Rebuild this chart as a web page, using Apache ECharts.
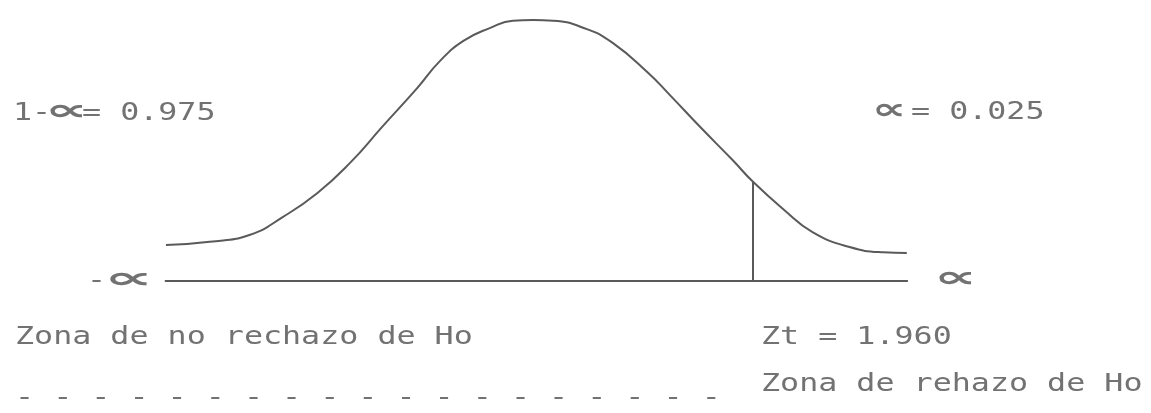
<!DOCTYPE html>
<html>
<head>
<meta charset="utf-8">
<title>Zona de rechazo</title>
<script src="https://cdn.jsdelivr.net/npm/echarts@6/dist/echarts.min.js"></script>
<style>
  html, body { margin: 0; padding: 0; background: #fff; }
  #main { width: 1151px; height: 413px; }
</style>
</head>
<body>
<div id="main"></div>
<script>
// curva normal (z, altura)
var curveZ = [-3.27, -2.88, -2.52, -2.23, -1.92, -1.63, -1.34, -1.03, -0.83, -0.62, -0.38, -0.18, 0,
              0.18, 0.48, 0.71, 1.02, 1.22, 1.49, 1.78, 1.96, 2.23, 2.49, 2.82, 3.12, 3.33];
var curveY = [0.055, 0.060, 0.071, 0.098, 0.135, 0.181, 0.237, 0.296, 0.337, 0.368, 0.388, 0.399, 0.400,
              0.399, 0.386, 0.365, 0.320, 0.285, 0.236, 0.185, 0.152, 0.110, 0.075, 0.052, 0.044, 0.043];

// eje horizontal (-inf .. inf)
var baseZ = [-3.28, 3.34];
var baseY = [0, 0];

// valor critico
var zCrit = 1.96;
var critHeight = 0.152;

// textos
var alphaSign = '∝';
var alphaText = '= 0.025';
var confPrefix = '1-';
var confText = '= 0.975';
var noRejectText = 'Zona de no rechazo de Ho';
var ztText = 'Zt = 1.960';
var rejectText = 'Zona de rehazo de Ho';
var dashCount = 19;

var lineColor = '#5a5a5a';
var textColor = '#727272';

function pairs(xs, ys) {
    var out = [];
    for (var i = 0; i < xs.length; i++) out.push([xs[i], ys[i]]);
    return out;
}

// texto tipo impresora: monoespaciado y estirado a lo ancho
function label(str, x, y) {
    return {
        type: 'text',
        x: x,
        y: y,
        scaleX: 1.32,
        style: {
            text: str,
            fontFamily: 'DejaVu Sans Mono',
            fontSize: 24,
            fill: textColor,
            verticalAlign: 'middle'
        }
    };
}

// el signo alfa de la impresora es ancho y bajo
function alpha(x, y, sx) {
    return {
        type: 'text',
        x: x,
        y: y,
        scaleX: sx,
        style: {
            text: alphaSign,
            fontFamily: 'DejaVu Sans',
            fontSize: 30,
            fontWeight: 'bold',
            fill: textColor,
            verticalAlign: 'middle'
        }
    };
}

var dashes = [];
for (var i = 0; i < dashCount; i++) dashes.push('-');

var chart = echarts.init(document.getElementById('main'));

var option = {
    animation: false,
    backgroundColor: '#fff',
    grid: { left: 84, right: 169, top: 7, bottom: 132 },
    xAxis: { type: 'value', min: -4, max: 4, show: false },
    yAxis: { type: 'value', min: 0, max: 0.42, show: false },
    series: [
        {
            // campana
            type: 'line',
            data: pairs(curveZ, curveY),
            smooth: 0.5,
            symbol: 'none',
            lineStyle: { color: lineColor, width: 2 }
        },
        {
            // eje
            type: 'line',
            data: pairs(baseZ, baseY),
            symbol: 'none',
            lineStyle: { color: lineColor, width: 2 }
        },
        {
            // linea del valor critico
            type: 'line',
            data: [[zCrit, 0], [zCrit, critHeight]],
            symbol: 'none',
            lineStyle: { color: lineColor, width: 2 }
        }
    ],
    graphic: [
        label(confPrefix, 13, 114),
        alpha(45, 112, 2.0),
        label(confText, 82, 114),
        alpha(872, 111, 1.6),
        label(alphaText, 911, 113),
        label('-', 87, 282),
        alpha(104, 280, 2.3),
        alpha(934, 279, 2.0),
        label(noRejectText, 15, 338),
        label(ztText, 761, 338),
        label(dashes.join(' '), 15, 399),
        label(rejectText, 761, 385)
    ]
};

chart.setOption(option);
</script>
</body>
</html>
